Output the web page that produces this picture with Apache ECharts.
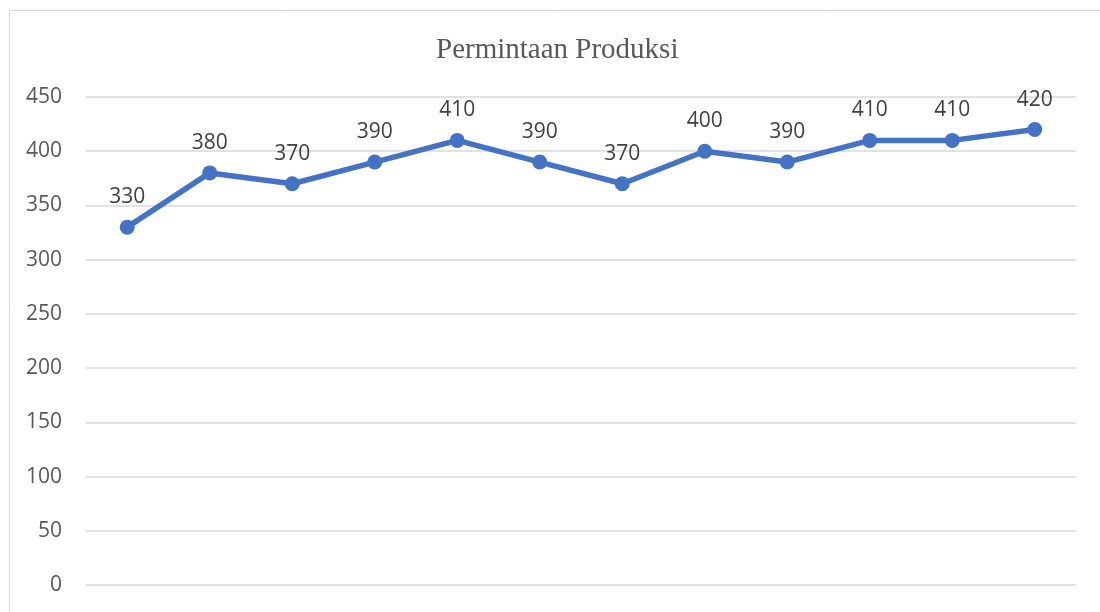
<!DOCTYPE html>
<html>
<head>
<meta charset="utf-8">
<script src="https://cdn.jsdelivr.net/npm/echarts@6/dist/echarts.min.js"></script>
<style>
  html, body { margin: 0; padding: 0; background: #fff; }
  #chart { width: 1100px; height: 612px; }
</style>
</head>
<body>
<div id="chart"></div>
<script>
// data
const categories = ["1", "2", "3", "4", "5", "6", "7", "8", "9", "10", "11", "12"]
const demand = [330, 380, 370, 390, 410, 390, 370, 400, 390, 410, 410, 420]

const chart = echarts.init(document.getElementById("chart"))
chart.setOption({
  animation: false,
  title: {
    text: "Permintaan Produksi",
    left: 431,
    top: 31,
    textStyle: { fontFamily: "Liberation Serif", fontSize: 29, fontWeight: "normal", color: "#595959" }
  },
  graphic: [
    {
      type: "rect",
      shape: { x: 9.5, y: 10.5, width: 1100, height: 700 },
      style: { fill: "none", stroke: "#d9d9d9", lineWidth: 1 },
      silent: true
    }
  ],
  grid: { left: 86, right: 24, top: 97, bottom: 27 },
  xAxis: {
    type: "category",
    data: categories,
    axisLine: { show: false },
    axisTick: { show: false },
    axisLabel: { show: false }
  },
  yAxis: {
    type: "value",
    min: 0,
    max: 450,
    interval: 50,
    axisLabel: { fontFamily: "Open Sans", fontSize: 21, color: "#595959", margin: 24 },
    splitLine: { lineStyle: { color: "#d9d9d9", width: 1.5 } }
  },
  series: [
    {
      name: "Permintaan",
      type: "line",
      data: demand,
      symbol: "circle",
      symbolSize: 15,
      lineStyle: { color: "#4472C4", width: 5.5 },
      itemStyle: { color: "#4472C4" },
      label: {
        show: true,
        position: "top",
        distance: 12,
        fontFamily: "Open Sans",
        fontSize: 21,
        color: "#404040"
      }
    }
  ]
})
</script>
</body>
</html>
